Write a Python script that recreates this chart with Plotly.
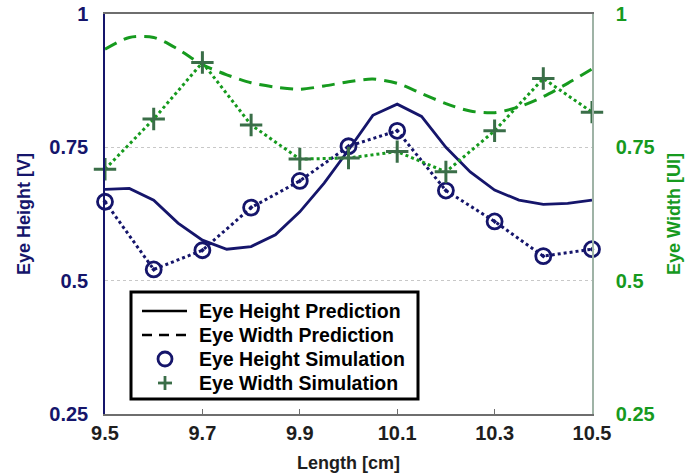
import plotly.graph_objects as go

# Cable length sweep [cm]
length_sim = [9.5, 9.6, 9.7, 9.8, 9.9, 10.0, 10.1, 10.2, 10.3, 10.4, 10.5]
length_pred = [9.5, 9.55, 9.6, 9.65, 9.7, 9.75, 9.8, 9.85, 9.9, 9.95, 10.0,
               10.05, 10.1, 10.15, 10.2, 10.25, 10.3, 10.35, 10.4, 10.45, 10.5]

# Simulated eye metrics
eye_height_sim = [0.648, 0.521, 0.557, 0.637, 0.687, 0.752, 0.781, 0.669, 0.611, 0.546, 0.559]
eye_width_sim = [0.709, 0.803, 0.909, 0.792, 0.728, 0.730, 0.742, 0.704, 0.781, 0.879, 0.816]

# Predicted eye metrics
eye_height_pred = [0.671, 0.673, 0.651, 0.608, 0.576, 0.559, 0.564, 0.586, 0.629, 0.683, 0.745,
                   0.810, 0.831, 0.808, 0.750, 0.704, 0.670, 0.651, 0.643, 0.645, 0.651]
eye_width_pred = [0.934, 0.956, 0.956, 0.934, 0.905, 0.886, 0.871, 0.863, 0.859, 0.865, 0.873,
                  0.878, 0.870, 0.851, 0.832, 0.818, 0.815, 0.826, 0.845, 0.870, 0.897]

x_ticks = [9.5, 9.7, 9.9, 10.1, 10.3, 10.5]
x_ticklabels = ["9.5", "9.7", "9.9", "10.1", "10.3", "10.5"]
y_ticks = [0.25, 0.5, 0.75, 1.0]
y_ticklabels = ["0.25", "0.5", "0.75", "1"]

legend_labels = ["Eye Height Prediction", "Eye Width Prediction",
                 "Eye Height Simulation", "Eye Width Simulation"]

NAVY = "#15156b"
GREEN = "#169a1e"
DKGREEN = "#3a6e48"
FONT = "Liberation Sans, Arial, sans-serif"

W, H = 700, 474
ML, MR, MT, MB = 105, 108, 14, 60
PW, PH = W - ML - MR, H - MT - MB


def px(x):
    """Horizontal pixel position -> plot-area paper fraction."""
    return (x - ML) / PW


def py(y):
    """Vertical pixel position (from top) -> plot-area paper fraction."""
    return (H - MB - y) / PH


fig = go.Figure()

# Eye height (left axis)
fig.add_trace(go.Scatter(x=length_pred, y=eye_height_pred, mode="lines",
                         line=dict(color=NAVY, width=2.8), showlegend=False))
fig.add_trace(go.Scatter(x=length_sim, y=eye_height_sim, mode="lines+markers",
                         line=dict(color=NAVY, width=3, dash="dot"),
                         marker=dict(symbol="circle-open-dot", size=15, color=NAVY,
                                     line=dict(color=NAVY, width=2.8)),
                         cliponaxis=False, showlegend=False))

# Eye width (right axis)
fig.add_trace(go.Scatter(x=length_pred, y=eye_width_pred, mode="lines", yaxis="y2",
                         line=dict(color=GREEN, width=3, dash="13px,8px", shape="spline", smoothing=0.8),
                         showlegend=False))
fig.add_trace(go.Scatter(x=length_sim, y=eye_width_sim, mode="lines+markers", yaxis="y2",
                         line=dict(color=GREEN, width=3, dash="dot"),
                         marker=dict(symbol="cross-thin", size=16, color=DKGREEN,
                                     line=dict(color=DKGREEN, width=3)),
                         cliponaxis=False, showlegend=False))

# Legend box with its keys
shapes = [
    dict(type="rect", xref="paper", yref="paper",
         x0=px(131), x1=px(418), y0=py(399), y1=py(292),
         line=dict(color="black", width=3), fillcolor="white", layer="above"),
    dict(type="line", xref="paper", yref="paper",
         x0=px(142), x1=px(187), y0=py(311), y1=py(311),
         line=dict(color="black", width=2.5), layer="above"),
    dict(type="line", xref="paper", yref="paper",
         x0=px(142), x1=px(188), y0=py(335), y1=py(335),
         line=dict(color="black", width=2.5, dash="10px,7px"), layer="above"),
    dict(type="circle", xref="paper", yref="paper",
         x0=px(158), x1=px(172), y0=py(366), y1=py(352),
         line=dict(color=NAVY, width=2.8), layer="above"),
    dict(type="line", xref="paper", yref="paper",
         x0=px(158), x1=px(172), y0=py(383), y1=py(383),
         line=dict(color=DKGREEN, width=2.8), layer="above"),
    dict(type="line", xref="paper", yref="paper",
         x0=px(165), x1=px(165), y0=py(376), y1=py(390),
         line=dict(color=DKGREEN, width=2.8), layer="above"),
]
legend_rows = [311, 335, 359, 383]
annotations = [
    dict(text=lab, xref="paper", yref="paper", x=px(197), y=py(row),
         xanchor="left", yanchor="middle", showarrow=False,
         font=dict(family=FONT, size=19.5, color="black", weight="bold"))
    for lab, row in zip(legend_labels, legend_rows)
]

fig.update_layout(
    width=W, height=H,
    margin=dict(l=ML, r=MR, t=MT, b=MB, autoexpand=False),
    paper_bgcolor="white", plot_bgcolor="white",
    font=dict(family=FONT, size=18, weight="bold"),
    showlegend=False,
    shapes=shapes,
    annotations=annotations,
    xaxis=dict(
        range=[9.5, 10.5], tickvals=x_ticks, ticktext=x_ticklabels,
        showgrid=False, zeroline=False, automargin=False,
        showline=True, linecolor="#6e6e6e", linewidth=1.5, mirror=True,
        ticks="inside", ticklen=5, tickcolor="#6e6e6e",
        ticklabelstandoff=0,
        tickfont=dict(color="#1e1e1e", size=20, weight="bold"),
        title=dict(text="Length [cm]", font=dict(color="#1e1e1e", size=18, weight="bold"), standoff=14),
    ),
    yaxis=dict(
        range=[0.25, 1.0], tickvals=y_ticks, ticktext=y_ticklabels,
        showgrid=True, gridcolor="#c8c8c8", griddash="dot", gridwidth=1,
        zeroline=False, showline=True, linecolor=NAVY, linewidth=1.5,
        ticks="", ticklabelstandoff=11, automargin=False,
        tickfont=dict(color=NAVY, size=20, weight="bold"),
        title=dict(text="Eye Height [V]", font=dict(color=NAVY, size=18, weight="bold"), standoff=14),
    ),
    yaxis2=dict(
        range=[0.25, 1.0], tickvals=y_ticks, ticktext=y_ticklabels,
        overlaying="y", side="right", showgrid=False, zeroline=False,
        showline=True, linecolor="#9fb3a6", linewidth=1.5, automargin=False,
        ticks="", ticklabelstandoff=18,
        tickfont=dict(color=GREEN, size=20, weight="bold"),
        title=dict(text="Eye Width [UI]", font=dict(color=GREEN, size=18, weight="bold"), standoff=14),
    ),
)

fig.write_html("out.html")
